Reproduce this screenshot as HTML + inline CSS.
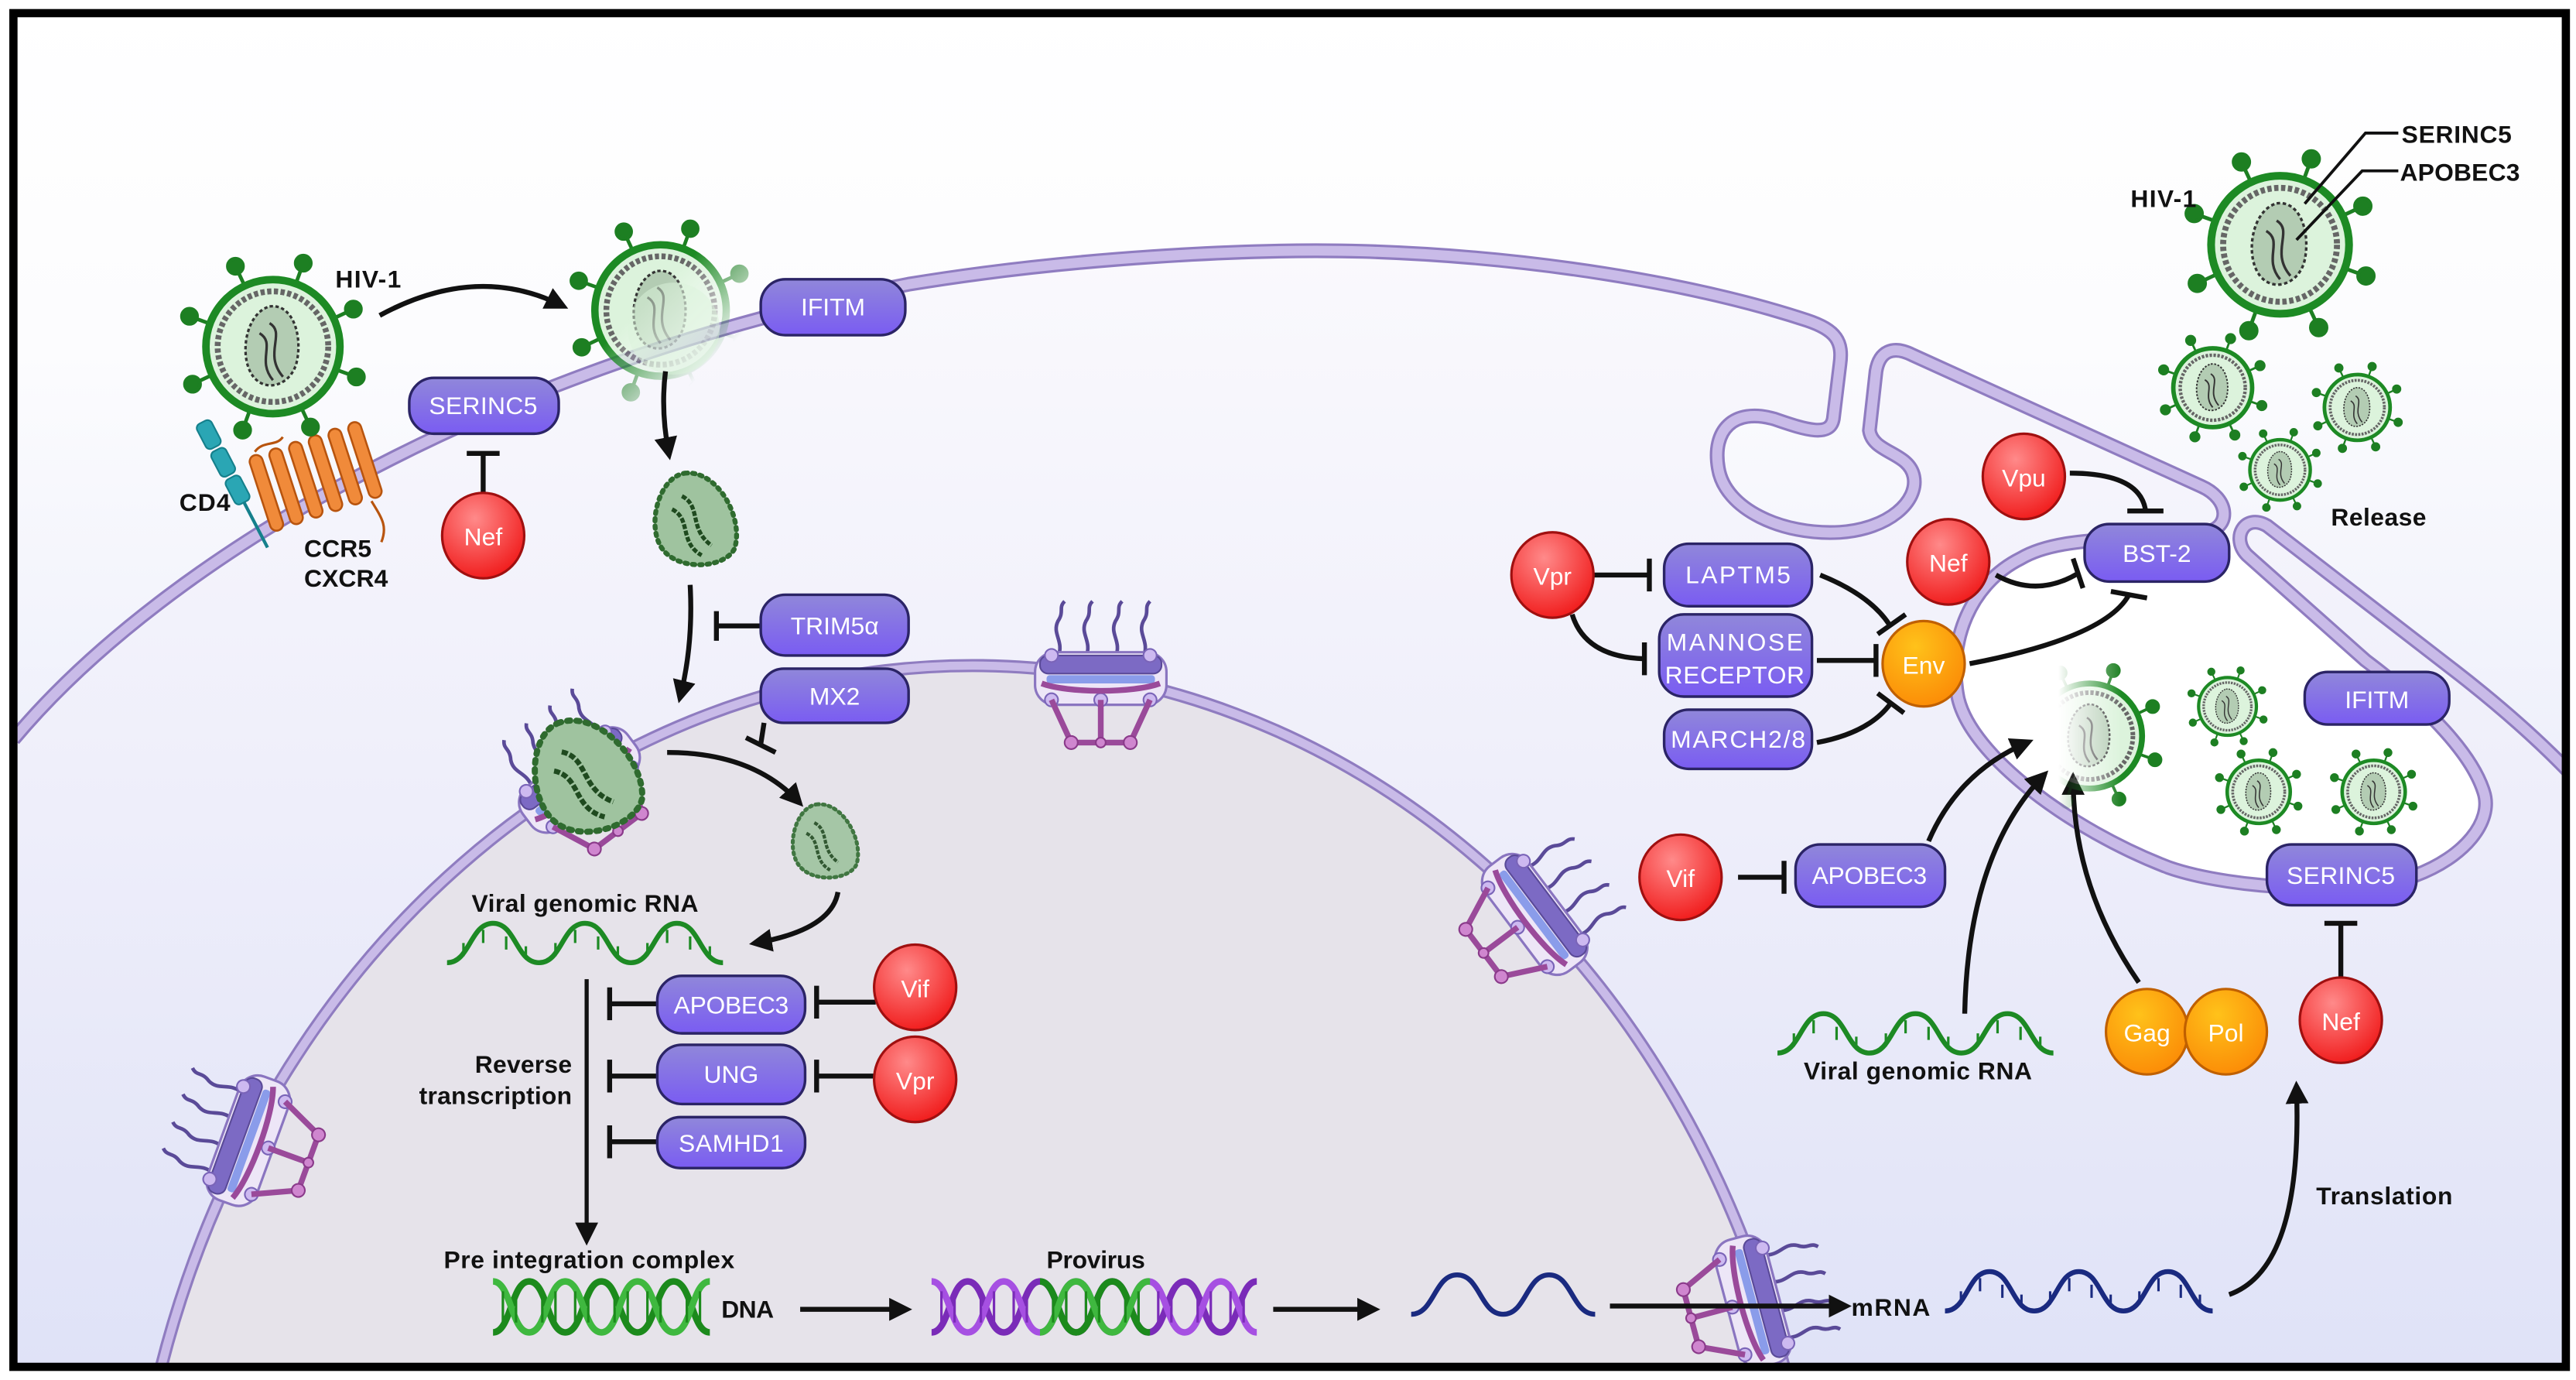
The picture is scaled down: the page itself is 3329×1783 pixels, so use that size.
<!DOCTYPE html>
<html><head><meta charset="utf-8"><style>
html,body{margin:0;padding:0;background:#fff;width:3329px;height:1783px;overflow:hidden;}
svg{display:block;position:absolute;left:0;top:0;}
text{font-family:"Liberation Sans",sans-serif;}
.lb{font-weight:bold;fill:#111;font-size:15px;}
.bx{fill:#fff;font-size:15px;text-anchor:middle;}
.ct{fill:#fff;font-size:15px;text-anchor:middle;}
</style></head><body>
<svg width="3329" height="1783" viewBox="0 0 1568 840" xmlns="http://www.w3.org/2000/svg">
<defs>
<linearGradient id="bg" x1="0" y1="0" x2="0" y2="1"><stop offset="0" stop-color="#ffffff"/><stop offset="0.25" stop-color="#fcfcfe"/><stop offset="1" stop-color="#dadef6"/></linearGradient>
<linearGradient id="cellg" x1="0" y1="0" x2="0" y2="1"><stop offset="0" stop-color="#faf9fd"/><stop offset="0.5" stop-color="#eeeefa"/><stop offset="1" stop-color="#dfe2f7"/></linearGradient>
<linearGradient id="boxg" x1="0" y1="0" x2="0" y2="1"><stop offset="0" stop-color="#9087da"/><stop offset="1" stop-color="#7a5cf2"/></linearGradient>
<radialGradient id="redg" cx="0.4" cy="0.3" r="0.75"><stop offset="0" stop-color="#ff8a8a"/><stop offset="1" stop-color="#f01818"/></radialGradient>
<radialGradient id="orgg" cx="0.4" cy="0.3" r="0.75"><stop offset="0" stop-color="#ffc21a"/><stop offset="1" stop-color="#fb8a06"/></radialGradient>
<linearGradient id="fadeA" x1="0" y1="0" x2="1" y2="1"><stop offset="0.45" stop-color="#fff"/><stop offset="0.75" stop-color="#000"/></linearGradient>
<mask id="mA" maskUnits="userSpaceOnUse" x="340" y="120" width="130" height="130"><rect x="340" y="120" width="130" height="130" fill="url(#fadeA)"/></mask>
<linearGradient id="fadeB" x1="1" y1="0" x2="0" y2="0"><stop offset="0.35" stop-color="#fff"/><stop offset="0.7" stop-color="#000"/></linearGradient>
<mask id="mB" maskUnits="userSpaceOnUse" x="1220" y="395" width="110" height="100"><rect x="1220" y="395" width="110" height="100" fill="url(#fadeB)"/></mask>
<marker id="ah" viewBox="0 0 10 10" refX="7" refY="5" markerWidth="14" markerHeight="14" markerUnits="userSpaceOnUse" orient="auto"><path d="M0 0L10 5L0 10Z" fill="#111"/></marker>
<clipPath id="frameclip"><rect x="8" y="8" width="1554" height="824"/></clipPath>
<clipPath id="gclip"><rect x="633" y="770" width="67" height="50"/></clipPath>

<g id="vir">
 <g stroke="#1d7f22" stroke-width="2.2" fill="#1d7f22">
  <line x1="37.6" y1="13.7" x2="47" y2="17.1"/><circle cx="49.8" cy="18.1" r="4.5"/>
  <line x1="16.9" y1="36.3" x2="21.1" y2="45.3"/><circle cx="22.4" cy="48" r="4.5"/>
  <line x1="-13.7" y1="37.6" x2="-17.1" y2="47"/><circle cx="-18.1" cy="49.8" r="4.5"/>
  <line x1="-36.3" y1="16.9" x2="-45.3" y2="21.1"/><circle cx="-48" cy="22.4" r="4.5"/>
  <line x1="-37.6" y1="-13.7" x2="-47" y2="-17.1"/><circle cx="-49.8" cy="-18.1" r="4.5"/>
  <line x1="-16.9" y1="-36.3" x2="-21.1" y2="-45.3"/><circle cx="-22.4" cy="-48" r="4.5"/>
  <line x1="13.7" y1="-37.6" x2="17.1" y2="-47"/><circle cx="18.1" cy="-49.8" r="4.5"/>
  <line x1="36.3" y1="-16.9" x2="45.3" y2="-21.1"/><circle cx="48" cy="-22.4" r="4.5"/>
 </g>
 <circle r="40" fill="#dcf3dc" stroke="#1d8a24" stroke-width="4.5"/>
 <circle r="33" fill="none" stroke="#666" stroke-width="3.5" stroke-dasharray="2.5 1.5"/>
 <path d="M-2 -24 C12 -26 18 -6 14 10 C10 24 -6 28 -13 16 C-20 4 -16 -20 -2 -24Z" fill="#b3ccb3" stroke="#333" stroke-width="1.5" stroke-dasharray="2 1.5"/>
 <path d="M-2 -14 C8 -8 -6 4 6 18 M-8 -8 C2 -2 -10 8 0 20" fill="none" stroke="#333" stroke-width="1.5"/>
</g>

<g id="cap">
 <path d="M-6 -28 C14 -30 30 0 24 18 C18 30 -10 32 -20 18 C-30 4 -22 -26 -6 -28Z" fill="#9fc39f" stroke="#2f6b2f" stroke-width="3" stroke-dasharray="1.5 3" stroke-linecap="round"/>
 <path d="M-8 -14 C4 -8 -4 6 10 16 M-14 -6 C-2 0 -10 14 4 22" fill="none" stroke="#1f4a1f" stroke-width="2.5" stroke-dasharray="3 1"/>
</g>

<g id="pore">
 <g fill="none" stroke="#5a4a98" stroke-width="2.2">
  <path d="M-12 -26 C-22 -30 -26 -22 -34 -26 C-40 -30 -42 -26 -46 -30"/>
  <path d="M-12 -9 C-22 -13 -26 -5 -34 -9 C-40 -13 -42 -9 -46 -13"/>
  <path d="M-12 9 C-22 5 -26 13 -34 9 C-40 5 -42 9 -46 5"/>
  <path d="M-12 26 C-22 22 -26 30 -34 26 C-40 22 -42 26 -46 22"/>
 </g>
 <rect x="-15" y="-40" width="32" height="80" rx="12" fill="#ede6f7" stroke="#8a75c0" stroke-width="1.5"/>
 <rect x="-13" y="-37" width="11" height="74" rx="5" fill="#7c6ac4" stroke="#5a4a98"/>
 <rect x="-1" y="-33" width="5" height="66" rx="2" fill="#8a9cea"/>
 <g fill="#cdb9f0" stroke="#7a64b8" stroke-width="1"><circle cx="-13" cy="-30" r="4"/><circle cx="-13" cy="30" r="4"/><circle cx="14" cy="-30" r="4"/><circle cx="14" cy="30" r="4"/><circle cx="14" cy="0" r="4"/></g>
 <g stroke="#9a4a9a" stroke-width="3.5" fill="none"><path d="M14 -30 L40 -18 L40 18 L14 30 M14 0 L40 0 M4 -36 C10 -20 10 20 4 36"/></g>
 <g fill="#cf86cf" stroke="#8a3a8a"><circle cx="40" cy="-18" r="4"/><circle cx="40" cy="18" r="4"/><circle cx="40" cy="0" r="3"/></g>
</g>

<path id="mem" d="M8 450 C100 340 300 222 553 173 C650 157 760 151 830 153 C930 156 1030 172 1100 195 C1118 201 1122 208 1120 222 L1116 255 C1114 266 1100 262 1080 255 C1055 248 1042 262 1046 285 C1050 310 1085 326 1120 324 C1150 322 1168 305 1165 290 C1162 275 1140 276 1138 262 L1142 226 C1144 214 1152 210 1164 216 L1340 296 C1358 304 1358 322 1342 324 C1300 330 1255 325 1230 340 C1200 355 1185 390 1192 425 C1200 460 1260 505 1320 528 C1360 542 1440 545 1470 533 C1500 522 1518 500 1512 482 C1505 460 1480 432 1440 402 L1368 338 C1358 328 1366 312 1380 320 L1490 405 C1520 428 1545 450 1566 472"/>
<path id="nuc" d="M96 840 A515 595 0 0 1 1088 840"/>
<path id="rna" d="M0 24 C14 24 14 0 28 0 S42 24 56 24 S70 0 84 0 S98 24 112 24 S126 0 140 0 S154 24 168 24"/>
<g id="rnaticks"><path d="M10 12 V20 M22 4 V12 M36 8 V16 M48 14 V22 M66 12 V20 M78 4 V12 M92 8 V16 M104 14 V22 M122 12 V20 M134 4 V12 M148 8 V16 M160 14 V22" stroke-width="1.5"/></g>
</defs>

<rect width="1568" height="840" fill="#fff"/>
<g clip-path="url(#frameclip)">
<rect x="0" y="0" width="1568" height="840" fill="url(#bg)"/>
<path d="M8 450 C100 340 300 222 553 173 C650 157 760 151 830 153 C930 156 1030 172 1100 195 C1118 201 1122 208 1120 222 L1116 255 C1114 266 1100 262 1080 255 C1055 248 1042 262 1046 285 C1050 310 1085 326 1120 324 C1150 322 1168 305 1165 290 C1162 275 1140 276 1138 262 L1142 226 C1144 214 1152 210 1164 216 L1340 296 C1358 304 1358 322 1342 324 C1300 330 1255 325 1230 340 C1200 355 1185 390 1192 425 C1200 460 1260 505 1320 528 C1360 542 1440 545 1470 533 C1500 522 1518 500 1512 482 C1505 460 1480 432 1440 402 L1368 338 C1358 328 1366 312 1380 320 L1490 405 C1520 428 1545 450 1566 472 L1566 840 L8 840 Z" fill="url(#cellg)"/>
<path d="M1342 324 C1300 330 1255 325 1230 340 C1200 355 1185 390 1192 425 C1200 460 1260 505 1320 528 C1360 542 1440 545 1470 533 C1500 522 1518 500 1512 482 C1505 460 1480 432 1440 402 L1368 338 C1362 330 1350 322 1342 324Z" fill="#ffffff"/>
<use href="#mem" fill="none" stroke="#8f7cc0" stroke-width="9"/>
<use href="#mem" fill="none" stroke="#c9bbe8" stroke-width="6"/>

<path d="M96 840 A515 595 0 0 1 1088 840 Z" fill="#e6e3ea"/>
<use href="#nuc" fill="none" stroke="#8f7cc0" stroke-width="8"/>
<use href="#nuc" fill="none" stroke="#c9bbe8" stroke-width="5"/>

<use href="#pore" transform="translate(670,412) rotate(90)"/>
<use href="#pore" transform="translate(150,694) rotate(20)"/>
<use href="#pore" transform="translate(935,556) rotate(143)"/>
<use href="#pore" transform="translate(1068,792) rotate(165)"/>
<use href="#pore" transform="translate(352,474) rotate(53)"/>
<use href="#cap" transform="translate(356,472) rotate(-15) scale(1.25)"/>

<g transform="translate(123,257) rotate(62.5)">
 <rect x="0" y="-5" width="17" height="10" rx="3" fill="#2aa6b4" stroke="#15808c"/>
 <rect x="19" y="-5" width="17" height="10" rx="3" fill="#2aa6b4" stroke="#15808c"/>
 <rect x="38" y="-5" width="17" height="10" rx="3" fill="#2aa6b4" stroke="#15808c"/>
 <line x1="55" y1="0" x2="86" y2="0" stroke="#15808c" stroke-width="2"/>
</g>
<g fill="#f08a3a" stroke="#b8540e" stroke-width="1.2">
 <rect x="158" y="276" width="8" height="48" rx="4" transform="rotate(-18 162 300)"/>
 <rect x="170" y="272" width="8" height="48" rx="4" transform="rotate(-18 174 296)"/>
 <rect x="182" y="268" width="8" height="48" rx="4" transform="rotate(-18 186 292)"/>
 <rect x="194" y="264" width="8" height="48" rx="4" transform="rotate(-18 198 288)"/>
 <rect x="206" y="260" width="8" height="48" rx="4" transform="rotate(-18 210 284)"/>
 <rect x="218" y="256" width="8" height="48" rx="4" transform="rotate(-18 222 280)"/>
</g>
<path d="M155 275 C160 268 168 272 172 266 M226 305 C232 315 236 320 232 330" fill="none" stroke="#b8540e" stroke-width="1.5"/>
<use href="#vir" transform="translate(166,211) scale(1.02)"/>
<text class="lb" x="204" y="175" textLength="40">HIV-1</text>
<text class="lb" x="109" y="311" textLength="31">CD4</text>
<text class="lb" x="185" y="339" textLength="41">CCR5</text>
<text class="lb" x="185" y="357" textLength="51">CXCR4</text>

<g mask="url(#mA)"><use href="#vir" transform="translate(402,189) scale(1.0)"/></g>
<circle cx="410" cy="200" r="28" fill="#dcf3dc" opacity="0.5"/>

<use href="#cap" transform="translate(423,316)"/>
<g opacity="0.9"><use href="#cap" transform="translate(502,512) scale(0.8)"/></g>

<g fill="none" stroke="#111" stroke-width="3">
 <path d="M231 192 Q290 160 342 186" marker-end="url(#ah)"/>
 <path d="M405 226 Q402 250 407 276" marker-end="url(#ah)"/>
 <path d="M420 356 Q422 392 414 424" marker-end="url(#ah)"/>
 <path d="M406 458 Q458 458 486 488" marker-end="url(#ah)"/>
 <path d="M510 543 Q506 566 460 574" marker-end="url(#ah)"/>
 <path d="M357 596 L357 754" stroke-width="2.5" marker-end="url(#ah)"/>
 <path d="M487 797 L551 797" marker-end="url(#ah)"/>
 <path d="M775 797 L836 797" marker-end="url(#ah)"/>
 <path d="M980 795 L1123 795" marker-end="url(#ah)"/>
 <path d="M1357 788 Q1402 772 1398 662" marker-end="url(#ah)"/>
 <path d="M1174 512 Q1192 470 1234 452" marker-end="url(#ah)"/>
 <path d="M1196 617 Q1198 520 1244 472" marker-end="url(#ah)"/>
 <path d="M1302 598 Q1262 540 1262 474" marker-end="url(#ah)"/>
</g>

<g fill="none" stroke="#111" stroke-width="3">
 <path d="M294 300 V276 M284 276 H304"/>
 <path d="M463 381 H436 M436 372 V390"/>
 <path d="M465 440 L463 453 M454 449 L472 458"/>
 <path d="M400 611 H371 M371 601 V621"/>
 <path d="M400 655 H371 M371 645 V665"/>
 <path d="M400 695 H371 M371 685 V705"/>
 <path d="M533 610 H497 M497 600 V620"/>
 <path d="M533 655 H497 M497 645 V665"/>
 <path d="M970 350 H1004 M1004 340 V360"/>
 <path d="M957 374 Q965 400 1001 401 M1001 391 V411"/>
 <path d="M1108 350 Q1138 362 1150 380 M1143 386 L1160 374"/>
 <path d="M1106 402 H1142 M1142 392 V412"/>
 <path d="M1106 452 Q1138 446 1151 428 M1143 422 L1159 434"/>
 <path d="M1260 288 Q1302 288 1306 310 M1295 311 H1317"/>
 <path d="M1215 350 Q1240 364 1265 349 M1262 340 L1268 358"/>
 <path d="M1199 404 Q1282 388 1296 362 M1285 360 L1307 364"/>
 <path d="M1425 595 V562 M1415 562 H1435"/>
 <path d="M1058 534 H1086 M1086 524 V544"/>
</g>

<g fill="none" stroke="#1d8a24" stroke-width="3">
 <use href="#rna" transform="translate(272,562)"/>
 <use href="#rnaticks" transform="translate(272,562)"/>
 <use href="#rna" transform="translate(1082,617)"/>
 <use href="#rnaticks" transform="translate(1082,617)"/>
</g>
<g fill="none" stroke="#1a2a80" stroke-width="3">
 <path d="M859 800 C873 800 873 776 887 776 S901 800 915 800 S929 776 943 776 S957 800 971 800"/>
 <use href="#rna" transform="translate(1184,774) scale(0.97,1)"/>
 <use href="#rnaticks" transform="translate(1184,774) scale(0.97,1)"/>
</g>
<g fill="none" stroke-width="4">
 <path d="M300 811 C311 811 311 780 322 780 S333 811 344 811 S355 780 366 780 S377 811 388 811 S399 780 410 780 S421 811 432 811" stroke="#1c8a1c"/>
 <path d="M300 780 C311 780 311 811 322 811 S333 780 344 780 S355 811 366 811 S377 780 388 780 S399 811 410 811 S421 780 432 780" stroke="#3fb83f"/>
 <path d="M306 786V805M314 786V805M330 786V805M338 786V805M350 786V805M358 786V805M374 786V805M382 786V805M394 786V805M402 786V805M418 786V805M426 786V805" stroke="#1c8a1c" stroke-width="1.5"/>
 <path d="M567 811 C578 811 578 780 589 780 S600 811 611 811 S622 780 633 780 S644 811 655 811 S666 780 677 780 S688 811 699 811 S710 780 721 780 S732 811 743 811 S754 780 765 780" stroke="#7a2bb8"/>
 <path d="M567 780 C578 780 578 811 589 811 S600 780 611 780 S622 811 633 811 S644 780 655 780 S666 811 677 811 S688 780 699 780 S710 811 721 811 S732 780 743 780 S754 811 765 811" stroke="#a650e2"/>
 <path d="M573 786V805M581 786V805M597 786V805M605 786V805M617 786V805M625 786V805M641 786V805M649 786V805M661 786V805M669 786V805M685 786V805M693 786V805M705 786V805M713 786V805M729 786V805M737 786V805M749 786V805M757 786V805" stroke="#7a2bb8" stroke-width="1.5"/>
 <g clip-path="url(#gclip)">
  <path d="M567 811 C578 811 578 780 589 780 S600 811 611 811 S622 780 633 780 S644 811 655 811 S666 780 677 780 S688 811 699 811 S710 780 721 780" stroke="#1c8a1c"/>
  <path d="M567 780 C578 780 578 811 589 811 S600 780 611 780 S622 811 633 811 S644 780 655 780 S666 811 677 811 S688 780 699 780 S710 811 721 811" stroke="#3fb83f"/>
  <path d="M641 786V805M649 786V805M661 786V805M669 786V805M685 786V805M693 786V805" stroke="#1c8a1c" stroke-width="1.5"/>
 </g>
</g>

<use href="#vir" transform="translate(1388,149) scale(1.05)"/>
<use href="#vir" transform="translate(1347,236) scale(0.6)"/>
<use href="#vir" transform="translate(1435,248) scale(0.5)"/>
<use href="#vir" transform="translate(1388,286) scale(0.46)"/>
<use href="#vir" transform="translate(1356,430) scale(0.44)"/>
<use href="#vir" transform="translate(1375,482) scale(0.48)"/>
<use href="#vir" transform="translate(1445,482) scale(0.48)"/>
<g mask="url(#mB)"><use href="#vir" transform="translate(1272,448) scale(0.8)"/></g>
<path d="M1460 81 H1440 L1403 124 M1460 104 H1438 L1398 146" fill="none" stroke="#111" stroke-width="1.8"/>
<text class="lb" x="1462" y="87" textLength="67">SERINC5</text>
<text class="lb" x="1461" y="110" textLength="73">APOBEC3</text>
<text class="lb" x="1297" y="126" textLength="40">HIV-1</text>
<text class="lb" x="1419" y="320" textLength="58">Release</text>

<g fill="url(#boxg)" stroke="#2b2466" stroke-width="1.6">
 <rect x="463" y="170" width="88" height="34" rx="15"/>
 <rect x="249" y="230" width="91" height="34" rx="15"/>
 <rect x="463" y="362" width="90" height="37" rx="15"/>
 <rect x="463" y="407" width="90" height="33" rx="14"/>
 <rect x="400" y="594" width="90" height="35" rx="15"/>
 <rect x="400" y="636" width="90" height="36" rx="15"/>
 <rect x="400" y="680" width="90" height="31" rx="14"/>
 <rect x="1013" y="331" width="90" height="38" rx="15"/>
 <rect x="1010" y="374" width="93" height="50" rx="15"/>
 <rect x="1013" y="432" width="90" height="36" rx="15"/>
 <rect x="1269" y="319" width="88" height="35" rx="15"/>
 <rect x="1093" y="514" width="91" height="38" rx="15"/>
 <rect x="1403" y="409" width="88" height="32" rx="14"/>
 <rect x="1380" y="514" width="91" height="37" rx="15"/>
</g>
<g class="bx">
 <text class="bx" x="507" y="192">IFITM</text>
 <text class="bx" x="294" y="252" textLength="66">SERINC5</text>
 <text class="bx" x="508" y="386">TRIM5α</text>
 <text class="bx" x="508" y="429">MX2</text>
 <text class="bx" x="445" y="617" textLength="70">APOBEC3</text>
 <text class="bx" x="445" y="659">UNG</text>
 <text class="bx" x="445" y="701" textLength="64">SAMHD1</text>
 <text class="bx" x="1058" y="355" textLength="64">LAPTM5</text>
 <text class="bx" x="1056" y="396" textLength="83">MANNOSE</text>
 <text class="bx" x="1056" y="416" textLength="85">RECEPTOR</text>
 <text class="bx" x="1058" y="455" textLength="82">MARCH2/8</text>
 <text class="bx" x="1313" y="342">BST-2</text>
 <text class="bx" x="1138" y="538" textLength="70">APOBEC3</text>
 <text class="bx" x="1447" y="431">IFITM</text>
 <text class="bx" x="1425" y="538" textLength="66">SERINC5</text>
</g>

<g stroke="#a01010" stroke-width="1.5" fill="url(#redg)">
 <ellipse cx="294" cy="326" rx="25" ry="26"/>
 <ellipse cx="557" cy="601" rx="25" ry="26"/>
 <ellipse cx="557" cy="657" rx="25" ry="26"/>
 <ellipse cx="945" cy="350" rx="25" ry="26"/>
 <ellipse cx="1232" cy="290" rx="25" ry="26"/>
 <ellipse cx="1186" cy="342" rx="25" ry="26"/>
 <ellipse cx="1023" cy="534" rx="25" ry="26"/>
 <ellipse cx="1425" cy="621" rx="25" ry="26"/>
</g>
<g stroke="#c06000" stroke-width="1.5" fill="url(#orgg)">
 <ellipse cx="1171" cy="404" rx="25" ry="26"/>
 <ellipse cx="1307" cy="628" rx="25" ry="26"/>
 <ellipse cx="1355" cy="628" rx="25" ry="26"/>
</g>
<g class="ct">
 <text class="ct" x="294" y="332">Nef</text>
 <text class="ct" x="557" y="607">Vif</text>
 <text class="ct" x="557" y="663">Vpr</text>
 <text class="ct" x="945" y="356">Vpr</text>
 <text class="ct" x="1232" y="296">Vpu</text>
 <text class="ct" x="1186" y="348">Nef</text>
 <text class="ct" x="1023" y="540">Vif</text>
 <text class="ct" x="1425" y="627">Nef</text>
 <text class="ct" x="1171" y="410">Env</text>
 <text class="ct" x="1307" y="634">Gag</text>
 <text class="ct" x="1355" y="634">Pol</text>
</g>

<text class="lb" x="287" y="555" textLength="138">Viral genomic RNA</text>
<text class="lb" x="289" y="653" textLength="59">Reverse</text>
<text class="lb" x="255" y="672" textLength="93">transcription</text>
<text class="lb" x="270" y="772" textLength="177">Pre integration complex</text>
<text class="lb" x="439" y="802" textLength="32">DNA</text>
<text class="lb" x="637" y="772" textLength="60">Provirus</text>
<text class="lb" x="1127" y="801" textLength="48">mRNA</text>
<text class="lb" x="1410" y="733" textLength="83">Translation</text>
<text class="lb" x="1098" y="657" textLength="139">Viral genomic RNA</text>
</g>
<rect x="8" y="8" width="1554" height="824" fill="none" stroke="#000" stroke-width="5"/>
</svg>
</body></html>
